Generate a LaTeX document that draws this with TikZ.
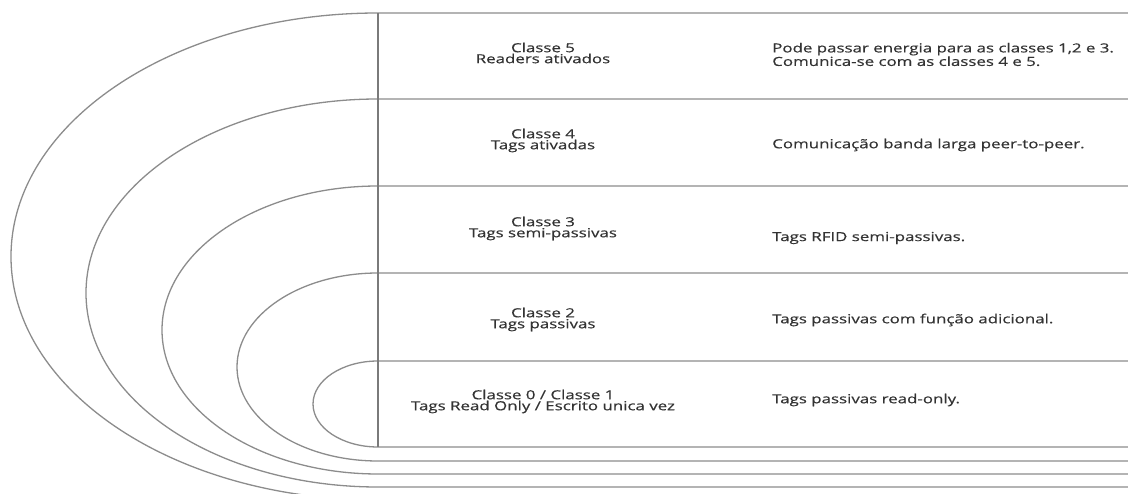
\documentclass[tikz,border=0pt]{standalone}
\usepackage{fontspec}
\setmainfont{Open Sans}
\newfontfamily\lblfont{Open Sans}[FakeBold=0.4]
\definecolor{linegray}{HTML}{8C8C8C}
\definecolor{vgray}{HTML}{7A7A7A}
\definecolor{textgray}{HTML}{333333}
\begin{document}
\begin{tikzpicture}[x=1pt,y=1pt,
  band/.style={draw=linegray, line width=1.3pt},
  classlbl/.style={text=textgray, align=center, inner sep=0pt, xscale=1.35, transform shape, font=\lblfont\fontsize{12.5}{11}\selectfont},
  desclbl/.style={text=textgray, align=left, anchor=west, inner sep=0pt, xscale=1.35, transform shape, font=\lblfont\fontsize{12.5}{13.5}\selectfont}]
\useasboundingbox (0,0) rectangle (1128,493);
\fill[white] (0,0) rectangle (1128,493);
\clip (0,0) rectangle (1128,493);
% bands (half ellipses joined to horizontal lines)
\draw[band] (1128,480) -- (378,480) arc[start angle=90, end angle=270, x radius=367pt, y radius=243.5pt] -- (1128,-7);
\draw[band] (1128,394) -- (378,394) arc[start angle=90, end angle=270, x radius=292pt, y radius=194pt] -- (1128,6);
\draw[band] (1128,307) -- (378,307) arc[start angle=90, end angle=270, x radius=216pt, y radius=144pt] -- (1128,19);
\draw[band] (1128,220) -- (378,220) arc[start angle=90, end angle=270, x radius=141pt, y radius=94pt] -- (1128,32);
\draw[band] (1128,132) -- (378,132) arc[start angle=90, end angle=270, x radius=65pt, y radius=43pt] -- (1128,46);
% vertical divider
\coordinate (vtop) at (378,480);
\coordinate (vbot) at (378,46);
\draw[vgray, line width=1.6pt] (vtop) -- (vbot);
% labels
\node[classlbl] (c5) at (543,440) {Classe 5\\Readers ativados};
\node[classlbl] (c4) at (543,352.5) {Classe 4\\Tags ativadas};
\node[classlbl] (c3) at (543,264.5) {Classe 3\\Tags semi-passivas};
\node[classlbl] (c2) at (543,173.5) {Classe 2\\Tags passivas};
\node[classlbl] (c0) at (543,91.5) {Classe 0 / Classe 1\\Tags Read Only / Escrito unica vez};
\node[desclbl] (d5) at (772,438.5) {Pode passar energia para as classes 1,2 e 3.\\Comunica-se com as classes 4 e 5.};
\node[desclbl] (d4) at (772,348) {Comunicação banda larga peer-to-peer.};
\node[desclbl] (d3) at (772,255) {Tags RFID semi-passivas.};
\node[desclbl] (d2) at (772,173) {Tags passivas com função adicional.};
\node[desclbl] (d0) at (772,93) {Tags passivas read-only.};
\end{tikzpicture}
\end{document}
